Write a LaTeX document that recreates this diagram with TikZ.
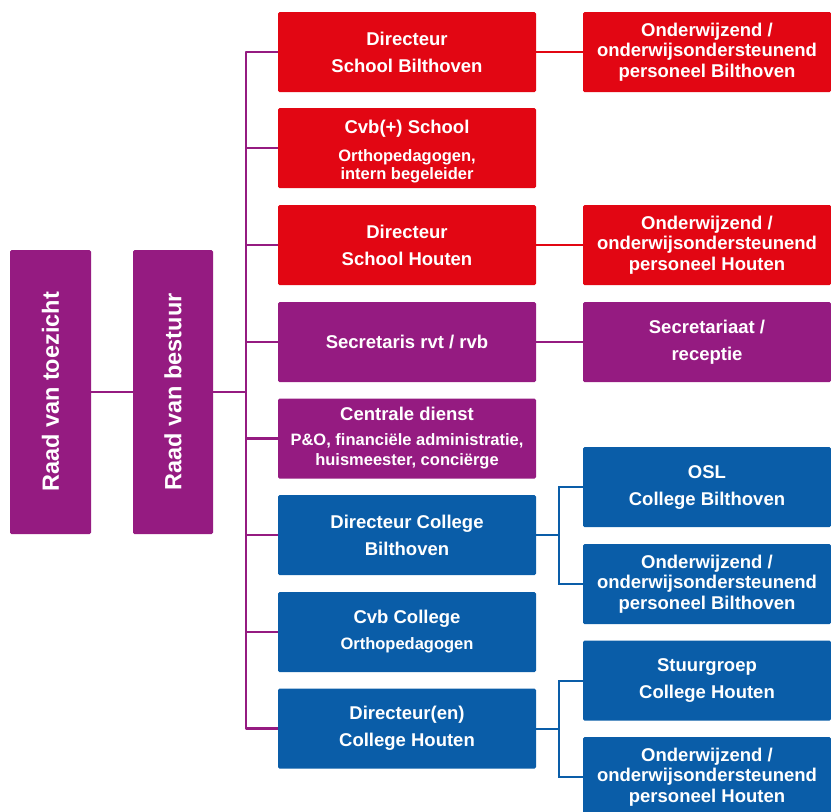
\documentclass[tikz,border=0pt]{standalone}
\usepackage{fontspec}
\setmainfont{Liberation Sans}
\definecolor{cred}{HTML}{E20613}
\definecolor{cpurple}{HTML}{951B81}
\definecolor{cblue}{HTML}{0A5DA8}
\newcommand{\tf}{\fontsize{18.5}{20.5}\selectfont\bfseries}
\newcommand{\sfs}{\fontsize{16.5}{18}\selectfont\bfseries}
\begin{document}
\begin{tikzpicture}[x=1pt,y=-1pt,
  box/.style={rounded corners=1.5pt, text=white, inner sep=0pt, align=center, font=\tf},
  mid/.style={box, minimum width=258pt, minimum height=80pt},
  rgt/.style={box, minimum width=248pt, minimum height=80pt},
  tall/.style={box, rotate=90, minimum width=284pt, minimum height=81pt, font=\fontsize{23.5}{26}\selectfont\bfseries},
  pline/.style={cpurple, line width=2.8pt},
  rline/.style={cred, line width=2pt},
  bline/.style={cblue, line width=2pt}]
\useasboundingbox (0,0) rectangle (831,812);
\clip (0,0) rectangle (831,812);
% left
\node[tall, fill=cpurple] (rvt) at (50.5,392) {Raad van toezicht};
\node[tall, fill=cpurple, minimum height=80pt] (rvb) at (173,392) {Raad van bestuur};
% middle column
\node[mid, fill=cred] (m1) at (407,52) {Directeur\\[6.5pt]School Bilthoven};
\node[mid, fill=cred] (m2) at (407,148) {};
\node[box] (m2t) at (407,152) {Cvb(+) School\\[7.5pt]{\sfs Orthopedagogen,}\\[-2.5pt]{\sfs intern begeleider}};
\node[mid, fill=cred] (m3) at (407,245) {Directeur\\[6.5pt]School Houten};
\node[mid, fill=cpurple] (m4) at (407,342) {Secretaris rvt / rvb};
\node[mid, fill=cpurple] (m5) at (407,438.5) {Centrale dienst\\[4pt]{\sfs P\&O, financiële administratie,}\\{\sfs huismeester, conciërge}};
\node[mid, fill=cblue] (m6) at (407,535) {Directeur College\\[6.5pt]Bilthoven};
\node[mid, fill=cblue] (m7) at (407,632) {Cvb College\\[5.5pt]{\sfs Orthopedagogen}};
\node[mid, fill=cblue] (m8) at (407,728.5) {Directeur(en)\\[6.5pt]College Houten};
% right column
\node[rgt, fill=cred] (r1) at (707,52) {Onderwijzend /\\onderwijsondersteunend\\personeel Bilthoven};
\node[rgt, fill=cred] (r2) at (707,245) {Onderwijzend /\\onderwijsondersteunend\\personeel Houten};
\node[rgt, fill=cpurple] (r3) at (707,342) {Secretariaat /\\[6.5pt]receptie};
\node[rgt, fill=cblue] (r4) at (707,487) {OSL\\[6.5pt]College Bilthoven};
\node[rgt, fill=cblue] (r5) at (707,584) {Onderwijzend /\\onderwijsondersteunend\\personeel Bilthoven};
\node[rgt, fill=cblue] (r6) at (707,680.5) {Stuurgroep\\[6.5pt]College Houten};
\node[rgt, fill=cblue] (r7) at (707,777) {Onderwijzend /\\onderwijsondersteunend\\personeel Houten};
% connectors
\coordinate (bus) at (246,392);
\draw[pline] (rvt) -- (rvb);
\draw[pline] (rvb) -- (bus);
\draw[pline, line join=round] (m1.west) -- (m1.west -| bus) -- (m8.west -| bus) -- (m8.west);
\foreach \n in {m2,m3,m4,m5,m6,m7} \draw[pline] (\n.west) -- (\n.west -| bus);
\draw[rline] (m1.east) -- (r1.west);
\draw[rline] (m3.east) -- (r2.west);
\draw[pline] (m4.east) -- (r3.west);
\coordinate (j1) at (559,535);
\coordinate (j2) at (559,728.5);
\draw[bline] (m6.east) -- (j1);
\draw[bline] (r4.west) -- (r4.west -| j1) -- (r5.west -| j1) -- (r5.west);
\draw[bline] (m8.east) -- (j2);
\draw[bline] (r6.west) -- (r6.west -| j2) -- (r7.west -| j2) -- (r7.west);
\end{tikzpicture}
\end{document}
